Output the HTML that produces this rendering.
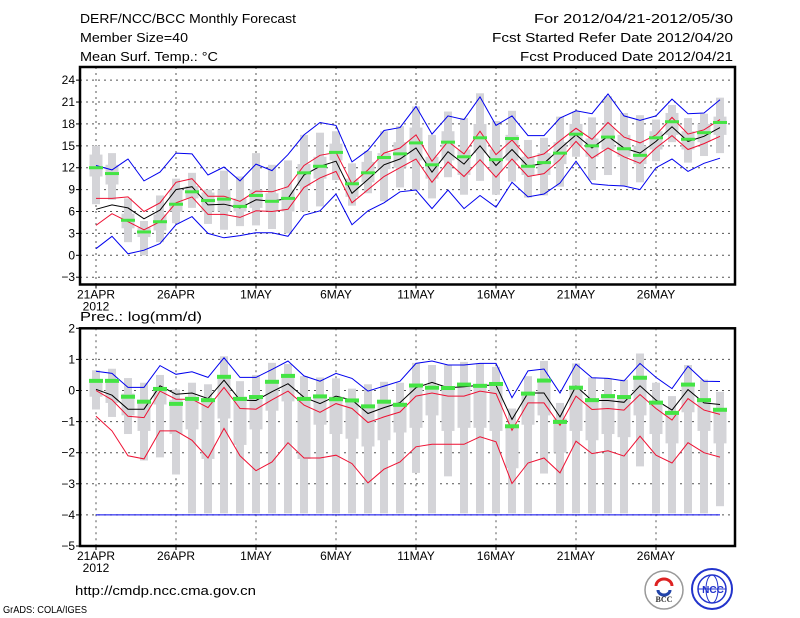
<!DOCTYPE html>
<html><head><meta charset="utf-8"><style>
body{margin:0;background:#fff;}
svg{display:block;font-family:"Liberation Sans",sans-serif;}
</style></head><body>
<svg id="chart" width="800" height="618" viewBox="0 0 800 618" xmlns="http://www.w3.org/2000/svg">
<rect x="0" y="0" width="800" height="618" fill="#fff"/>
<g font-size="13" fill="#000">
<text x="80" y="23" textLength="216" lengthAdjust="spacingAndGlyphs">DERF/NCC/BCC Monthly Forecast</text>
<text x="80" y="42" textLength="108" lengthAdjust="spacingAndGlyphs">Member Size=40</text>
<text x="80" y="61" textLength="138" lengthAdjust="spacingAndGlyphs">Mean Surf. Temp.: °C</text>
<text x="534" y="23" textLength="199" lengthAdjust="spacingAndGlyphs">For 2012/04/21-2012/05/30</text>
<text x="492" y="42" textLength="241" lengthAdjust="spacingAndGlyphs">Fcst Started Refer Date 2012/04/20</text>
<text x="520" y="61" textLength="213" lengthAdjust="spacingAndGlyphs">Fcst Produced Date 2012/04/21</text>
<text x="80" y="321" textLength="122" lengthAdjust="spacingAndGlyphs">Prec.: log(mm/d)</text>
<text x="75" y="595" textLength="181" lengthAdjust="spacingAndGlyphs">http://cmdp.ncc.cma.gov.cn</text>
<text x="3" y="613" font-size="10" textLength="84" lengthAdjust="spacingAndGlyphs">GrADS: COLA/IGES</text>
</g>
<g>
<circle cx="664" cy="590" r="19" fill="#fff" stroke="#999" stroke-width="1.5"/>
<path d="M656 586 a8 7 0 1 1 16 0" fill="none" stroke="#d22" stroke-width="3"/>
<path d="M658 590 a6 5 0 0 0 12 0" fill="none" stroke="#24a" stroke-width="3"/>
<text x="664" y="602" font-size="8" font-family="Liberation Serif,serif" font-weight="bold" text-anchor="middle" fill="#333">BCC</text>
</g>
<g>
<circle cx="712" cy="589" r="20" fill="#fff" stroke="#23c" stroke-width="2"/>
<ellipse cx="712" cy="589" rx="14" ry="14" fill="none" stroke="#23c" stroke-width="1.5"/>
<ellipse cx="712" cy="589" rx="6" ry="14" fill="none" stroke="#23c" stroke-width="1"/>
<line x1="698" y1="589" x2="726" y2="589" stroke="#23c"/>
<text x="713" y="593" font-size="10" font-weight="bold" text-anchor="middle" fill="#23c">NCC</text>
</g>
<g id="top"></g>
<g id="bot"></g>
</svg>
<script>
// ---- Temperature panel data ----
const xLabels=["21APR","26APR","1MAY","6MAY","11MAY","16MAY","21MAY","26MAY"];
const tYTicks=[-3,0,3,6,9,12,15,18,21,24];
const tMax=[12.3,11.7,13.2,10.2,11.4,14.0,13.9,11.0,12.1,10.2,12.5,11.6,13.8,16.5,18.2,17.8,12.8,14.4,17.1,17.5,20.4,16.6,19.1,18.6,21.7,17.8,19.1,16.4,16.4,18.8,19.8,19.4,22.1,19.1,18.5,19.1,21.4,19.4,19.5,21.3];
const tMin=[0.9,2.6,0.2,0.7,1.6,4.2,5.3,3.0,2.4,2.7,3.1,3.1,2.6,5.5,6.1,8.4,4.2,6.1,7.2,8.7,8.95,6.4,8.95,6.4,8.2,6.6,10.0,8.0,8.4,9.9,12.9,9.8,9.6,9.5,9.0,12.0,13.2,11.5,12.6,13.3];
const tUp=[7.8,7.8,8.0,6.0,7.2,10.0,10.5,8.1,8.1,7.4,8.8,8.7,9.4,12.3,13.7,14.1,9.8,11.7,14.0,14.7,16.5,12.9,15.6,13.9,17.0,13.8,15.8,13.3,13.9,15.7,17.4,15.9,18.2,16.2,15.4,16.5,18.9,16.6,17.2,18.6];
const tLow=[4.1,5.7,4.6,3.5,4.6,7.2,8.0,5.6,5.6,5.2,6.1,6.0,6.3,9.3,10.6,11.5,7.2,9.0,10.8,12.0,13.2,10.0,12.8,10.8,13.1,10.7,13.2,10.8,11.2,13.1,15.6,13.3,14.7,13.5,12.6,14.7,16.4,14.5,15.3,16.3];
const tMean=[6.3,6.9,6.5,5.0,6.2,9.0,9.4,6.9,7.0,6.5,7.6,7.4,7.8,11.0,12.2,12.9,8.5,10.4,12.4,13.2,14.7,11.4,14.2,12.5,15.0,12.3,14.5,12.2,12.6,14.6,16.5,14.7,16.3,14.7,14.0,15.6,17.6,15.6,16.3,17.5];
const tObs=[12.0,11.2,4.8,3.2,4.6,7.0,8.7,7.5,7.7,6.7,8.2,7.4,7.8,11.3,12.2,14.1,9.8,11.3,13.4,13.9,15.4,12.4,15.5,13.5,16.1,13.1,16.0,12.2,12.7,14.0,16.6,15.0,16.2,14.6,13.7,16.1,18.3,15.9,16.8,18.2];
const tWLo=[7,7.6,1.8,0,1.8,4.4,6.5,4.3,3.5,4,4.1,3.6,3,6,6.7,10.3,6.8,8.5,7.4,9.3,8.9,7.8,10.7,8.3,10.2,8.3,10.1,7.9,8.2,9.4,13.5,10.3,11,9.5,10,12.9,15.5,12.7,13.6,14];
const tWHi=[15,14,7.8,4.7,8.2,10.5,11.3,9,11.6,10.8,14,12.4,13,16.5,16.8,17,12.6,14.3,17,17.7,20.4,16.5,19.7,18.8,22.2,18.4,19.8,15.8,16.1,19,19.7,18.9,21.8,19.5,19.2,18.6,20.6,18.8,19.4,21.6];
const tBLo=[10.8,9.7,3.7,2.5,3.4,6,7.8,6,6,6,6.5,6,6,9.5,10.5,13,8,10,11.8,12,13,10.5,13,11,14,11.5,13,11,11,12.5,15,13.5,14.5,13.5,12.5,14.5,16.5,14.5,15.5,16.5];
const tBHi=[13.8,12.4,5.7,3.8,5.6,9,9.5,8.6,9,7.8,9,8.5,9,12.5,13.5,15.3,10.5,12.8,14,15.5,17.5,13.5,17,14.5,18,14.5,16.5,13.5,14,15.5,18,16,17.5,16.5,15,17,19.5,17,18,19];
// ---- Precipitation panel data ----
const pYTicks=[-5,-4,-3,-2,-1,0,1,2];
const pMax=[0.62,0.55,0.1,0.1,0.8,0.52,0.6,0.42,1.05,0.42,0.42,0.68,0.95,0.47,0.3,0.55,0.39,-0.02,0.14,0.3,0.87,0.95,0.82,0.82,0.87,0.87,-0.23,0.63,0.69,-0.08,0.85,0.41,0.39,0.31,0.87,0.42,0.06,0.78,0.3,0.29];
const pMin=[-4,-4,-4,-4,-4,-4,-4,-4,-4,-4,-4,-4,-4,-4,-4,-4,-4,-4,-4,-4,-4,-4,-4,-4,-4,-4,-4,-4,-4,-4,-4,-4,-4,-4,-4,-4,-4,-4,-4,-4];
const pUp=[0.0,-0.3,-0.83,-0.87,-0.02,-0.28,-0.28,-0.55,0.1,-0.58,-0.6,-0.3,-0.02,-0.47,-0.7,-0.42,-0.58,-1.03,-0.85,-0.69,-0.18,-0.08,-0.18,-0.18,-0.02,-0.1,-1.28,-0.4,-0.4,-1.12,-0.18,-0.61,-0.58,-0.63,-0.13,-0.58,-0.95,-0.26,-0.63,-0.77];
const pLow=[-0.83,-1.3,-2.1,-2.2,-1.3,-1.3,-1.6,-2.17,-1.22,-2.1,-2.58,-2.3,-1.68,-2.17,-2.17,-2.08,-2.35,-2.97,-2.53,-2.3,-1.81,-1.73,-1.73,-1.73,-1.49,-1.65,-2.99,-2.33,-2.17,-2.65,-1.63,-2.03,-1.94,-2.11,-1.47,-2.08,-2.33,-1.68,-2.0,-2.14];
const pMean=[0.04,-0.15,-0.6,-0.6,0.15,-0.12,-0.08,-0.26,0.33,-0.31,-0.32,-0.04,0.22,-0.22,-0.42,-0.18,-0.31,-0.74,-0.55,-0.39,0.09,0.26,0.09,0.12,0.17,0.17,-0.93,-0.08,-0.08,-0.85,0.14,-0.32,-0.32,-0.38,0.15,-0.31,-0.63,0.03,-0.4,-0.45];
const pObs=[0.31,0.31,-0.2,-0.36,0.05,-0.43,-0.27,-0.31,0.44,-0.27,-0.21,0.28,0.47,-0.27,-0.19,-0.28,-0.32,-0.51,-0.36,-0.46,0.16,0.09,0.08,0.19,0.15,0.21,-1.15,-0.1,0.32,-1.01,0.09,-0.31,-0.18,-0.21,0.41,-0.39,-0.72,0.19,-0.31,-0.62];
const pWLo=[-0.61,-0.85,-1.4,-2.25,-2.15,-2.7,-3.95,-3.95,-3.95,-3.95,-3.95,-3.95,-3.95,-3.95,-3.95,-3.95,-3.95,-3.95,-3.95,-3.95,-2.65,-3.95,-2.76,-3.95,-3.95,-3.95,-3.95,-3.95,-2.67,-3.95,-3.95,-3.95,-3.95,-3.95,-2.44,-3.95,-3.95,-3.95,-3.95,-3.72];
const pWHi=[0.65,0.7,0.4,0.25,0.5,0.03,0.25,0.2,1.1,0.3,0.5,0.89,0.85,0.46,0.42,0.39,0.06,0.2,0.28,0.25,0.89,0.82,0.82,0.92,0.87,0.76,-0.58,0.46,0.95,-0.4,0.87,0.42,0.39,0.35,1.19,0.25,-0.18,0.82,0.35,-0.04];
const pBLo=[-0.2,-0.4,-0.8,-1.3,-0.45,-1.4,-1.25,-2.2,-0.9,-1.75,-1.25,-0.65,-0.35,-2.2,-1.1,-1.4,-1.55,-1.8,-1.6,-1.35,-1.2,-0.8,-1.3,-1.2,-1.2,-1.3,-2.5,-1.1,-0.8,-2.0,-1.3,-1.6,-1.4,-1.5,-0.8,-1.4,-1.7,-0.7,-1.3,-1.7];
const pBHi=[0.3,0.3,-0.1,-0.3,0.05,-0.3,-0.2,-0.3,0.4,-0.2,-0.15,0.3,0.45,-0.25,-0.2,-0.2,-0.3,-0.5,-0.35,-0.4,0.2,0.1,0.05,0.2,0.15,0.2,-1.1,-0.1,0.35,-0.9,0.1,-0.3,-0.2,-0.2,0.4,-0.35,-0.7,0.2,-0.3,-0.6];

const NS="http://www.w3.org/2000/svg";
const X0=80,X1=735,DAY0=96,DX=16;
function xS(i){return DAY0+i*DX;}
function mk(tag,attrs,parent){const e=document.createElementNS(NS,tag);for(const k in attrs)e.setAttribute(k,attrs[k]);parent.appendChild(e);return e;}

function panel(g,top,bot,vmin,vmax,ticks,S,pre){
  const yS=v=>bot-(v-vmin)/(vmax-vmin)*(bot-top);
  // grid
  ticks.forEach(t=>{
    const y=yS(t);
    if(t!==vmin&&t!==vmax){const l=mk('line',{x1:X0,x2:X1,y1:y,y2:y,stroke:'#555','stroke-width':1,'stroke-dasharray':'2,4'},g);
      
      }
    mk('line',{x1:X0-4,x2:X0,y1:y,y2:y,stroke:'#000'},g);
    const tx=mk('text',{x:X0-5,y:y+4,'font-size':12,'text-anchor':'end'},g);
    tx.textContent=(t<0?'\u2212':'')+Math.abs(t);
    
    
  });
  xLabels.forEach((lab,k)=>{
    const x=xS(k*5);
    if(k>0){const l=mk('line',{x1:x,x2:x,y1:top,y2:bot,stroke:'#555','stroke-width':1,'stroke-dasharray':'2,4'},g);
      
      }
    else{mk('line',{x1:x,x2:x,y1:top,y2:bot,stroke:'#555','stroke-width':1,'stroke-dasharray':'2,4'},g);}
    mk('line',{x1:x,x2:x,y1:bot,y2:bot+4,stroke:'#000'},g);
    const tx=mk('text',{x:x,y:bot+14,'font-size':12,'text-anchor':'middle'},g);
    tx.textContent=lab;
    
    
  });
  const yr=mk('text',{x:xS(0),y:bot+26,'font-size':12,'text-anchor':'middle'},g);
  yr.textContent='2012';
  
  
  // boxes
  for(let i=0;i<S.wlo.length;i++){
    const w=mk('rect',{x:xS(i)-4,y:yS(S.whi[i]),width:8,height:Math.max(0,yS(S.wlo[i])-yS(S.whi[i])),fill:'#d4d4d8'},g);
    
    
    const b=mk('rect',{x:xS(i)-6.5,y:yS(S.bhi[i]),width:13,height:Math.max(0,yS(S.blo[i])-yS(S.bhi[i])),fill:'#d4d4d8'},g);
    
    
  }
  const line=(arr,col,name)=>{
    const p=mk('polyline',{points:arr.map((v,i)=>xS(i)+','+yS(v).toFixed(1)).join(' '),fill:'none',stroke:col,'stroke-width':1},g);
    
    
  };
  line(S.max,'#0000ee',pre+'-max-line');
  line(S.min,'#0000ee',pre+'-min-line');
  line(S.up,'#ee1133',pre+'-upper-line');
  line(S.low,'#ee1133',pre+'-lower-line');
  line(S.mean,'#000',pre+'-mean-line');
  for(let i=0;i<S.obs.length;i++){
    const r=mk('rect',{x:xS(i)-7,y:yS(S.obs[i])-S.oh/2,width:14,height:S.oh,fill:'#44e444'},g);
    
    
  }
  const f=mk('rect',{x:X0,y:top,width:X1-X0,height:bot-top,fill:'none',stroke:'#000','stroke-width':2.5},g);
  
  
}
const gt=document.getElementById('top');


panel(gt,67,284.5,-4,25.8,tYTicks,{max:tMax,min:tMin,up:tUp,low:tLow,mean:tMean,obs:tObs,wlo:tWLo,whi:tWHi,blo:tBLo,bhi:tBHi,oh:3},'temp');
const gb=document.getElementById('bot');


panel(gb,328.3,546,-5,2,pYTicks,{max:pMax,min:pMin,up:pUp,low:pLow,mean:pMean,obs:pObs,wlo:pWLo,whi:pWHi,blo:pBLo,bhi:pBHi,oh:4},'prec');
</script>
</body></html>
